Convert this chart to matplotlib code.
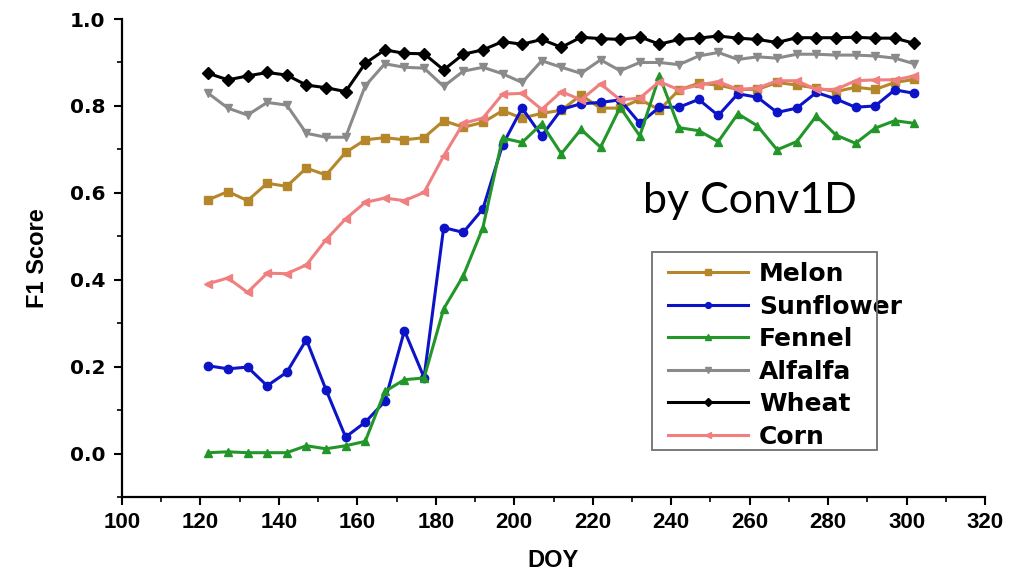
import matplotlib
matplotlib.use('Agg')
import matplotlib.pyplot as plt
from matplotlib.patches import Rectangle

# DOY of each acquisition
doy = [122, 127, 132, 137, 142, 147, 152, 157, 162, 167, 172, 177, 182,
       187, 192, 197, 202, 207, 212, 217, 222, 227, 232, 237, 242, 247,
       252, 257, 262, 267, 272, 277, 282, 287, 292, 297, 302]

# F1 score per crop
melon = [0.584, 0.603, 0.582, 0.622, 0.615, 0.657, 0.641, 0.693, 0.722, 0.727,
         0.722, 0.727, 0.766, 0.751, 0.762, 0.789, 0.772, 0.783, 0.790, 0.825,
         0.795, 0.795, 0.815, 0.791, 0.837, 0.852, 0.848, 0.838, 0.838, 0.854,
         0.848, 0.841, 0.833, 0.843, 0.838, 0.854, 0.861]
sunflower = [0.202, 0.195, 0.199, 0.156, 0.187, 0.262, 0.147, 0.038, 0.072, 0.120,
             0.283, 0.175, 0.520, 0.509, 0.563, 0.710, 0.795, 0.731, 0.792, 0.805,
             0.808, 0.814, 0.760, 0.797, 0.797, 0.815, 0.778, 0.828, 0.820, 0.785,
             0.795, 0.831, 0.816, 0.797, 0.800, 0.837, 0.829]
fennel = [0.002, 0.004, 0.002, 0.002, 0.002, 0.018, 0.011, 0.018, 0.028, 0.143,
          0.170, 0.174, 0.333, 0.409, 0.520, 0.726, 0.716, 0.759, 0.690, 0.746,
          0.705, 0.797, 0.731, 0.869, 0.750, 0.743, 0.718, 0.782, 0.754, 0.699,
          0.718, 0.777, 0.733, 0.714, 0.749, 0.766, 0.760]
alfalfa = [0.829, 0.795, 0.779, 0.808, 0.802, 0.737, 0.728, 0.728, 0.846, 0.897,
           0.889, 0.887, 0.845, 0.880, 0.889, 0.874, 0.854, 0.904, 0.889, 0.875,
           0.906, 0.881, 0.900, 0.900, 0.895, 0.915, 0.923, 0.907, 0.913, 0.910,
           0.919, 0.919, 0.917, 0.917, 0.915, 0.910, 0.897]
wheat = [0.875, 0.860, 0.869, 0.877, 0.871, 0.848, 0.842, 0.833, 0.898, 0.929,
         0.921, 0.920, 0.883, 0.919, 0.929, 0.948, 0.942, 0.953, 0.935, 0.958,
         0.955, 0.953, 0.959, 0.942, 0.953, 0.956, 0.961, 0.956, 0.953, 0.946,
         0.957, 0.957, 0.957, 0.958, 0.956, 0.956, 0.944]
corn = [0.391, 0.404, 0.371, 0.415, 0.414, 0.434, 0.492, 0.540, 0.578, 0.588,
        0.582, 0.601, 0.685, 0.760, 0.772, 0.827, 0.829, 0.792, 0.833, 0.814,
        0.851, 0.814, 0.818, 0.856, 0.837, 0.848, 0.856, 0.838, 0.841, 0.858,
        0.858, 0.838, 0.838, 0.858, 0.860, 0.860, 0.869]

names = ['Melon', 'Sunflower', 'Fennel', 'Alfalfa', 'Wheat', 'Corn']
series = [melon, sunflower, fennel, alfalfa, wheat, corn]
colors = ['#B5872A', '#0D14C8', '#23962A', '#8A8A8A', '#000000', '#F08080']
markers = ['s', 'o', '^', 'v', 'D', '<']

fig = plt.figure(figsize=(10.2, 5.73), dpi=100)
ax = fig.add_axes([0.1196, 0.1326, 0.8461, 0.8342])

for name, vals, c, m in zip(names, series, colors, markers):
    ax.plot(doy, vals, color=c, marker=m, markersize=6, linewidth=2.2, label=name)

ax.set_xlim(100, 320)
ax.set_ylim(-0.1, 1.0)
ax.set_xticks(range(100, 321, 20))
ax.set_xticks(range(110, 320, 20), minor=True)
ax.set_yticks([0.0, 0.2, 0.4, 0.6, 0.8, 1.0])
ax.set_yticks([-0.1, 0.1, 0.3, 0.5, 0.7, 0.9], minor=True)

for s in ['top', 'right']:
    ax.spines[s].set_visible(False)
for s in ['left', 'bottom']:
    ax.spines[s].set_linewidth(1.6)

ax.tick_params(which='major', direction='out', length=6, width=1.5)
ax.tick_params(which='minor', direction='out', length=3.5, width=1.2)
ax.tick_params(axis='y', pad=6)
ax.tick_params(axis='x', pad=5)

for lab in ax.get_yticklabels():
    lab.set_family('DejaVu Sans')
    lab.set_fontweight('bold')
    lab.set_fontsize(14.5)
for lab in ax.get_xticklabels():
    lab.set_family('Liberation Sans')
    lab.set_fontweight('bold')
    lab.set_fontsize(16)

ax.set_ylabel('F1 Score', fontsize=17, fontweight='bold', family='Liberation Sans')
ax.yaxis.set_label_coords(-0.084, 0.5)
ax.set_xlabel('DOY', fontsize=17, fontweight='bold', family='Liberation Sans')
ax.xaxis.set_label_coords(0.5, -0.108)

# legend without frame, box drawn separately (text runs past it in the original)
leg = ax.legend(loc='upper left', bbox_to_anchor=(668 / 1020, 1 - 262 / 573),
                bbox_transform=fig.transFigure, frameon=False, borderpad=0,
                borderaxespad=0, handlelength=3.2, handletextpad=0.45,
                labelspacing=0.34, markerscale=0.7,
                prop={'family': 'DejaVu Sans', 'weight': 'bold', 'size': 18})
fig.add_artist(Rectangle((652 / 1020, 1 - 450 / 573), 225 / 1020, 198 / 573,
                         transform=fig.transFigure, fill=False,
                         edgecolor='#707070', linewidth=1.3))

fig.text(643 / 1020, 1 - 213 / 573, 'by Conv1D', fontsize=31, family='Lato',
         ha='left', va='baseline')

fig.savefig('out.png', dpi=100)
